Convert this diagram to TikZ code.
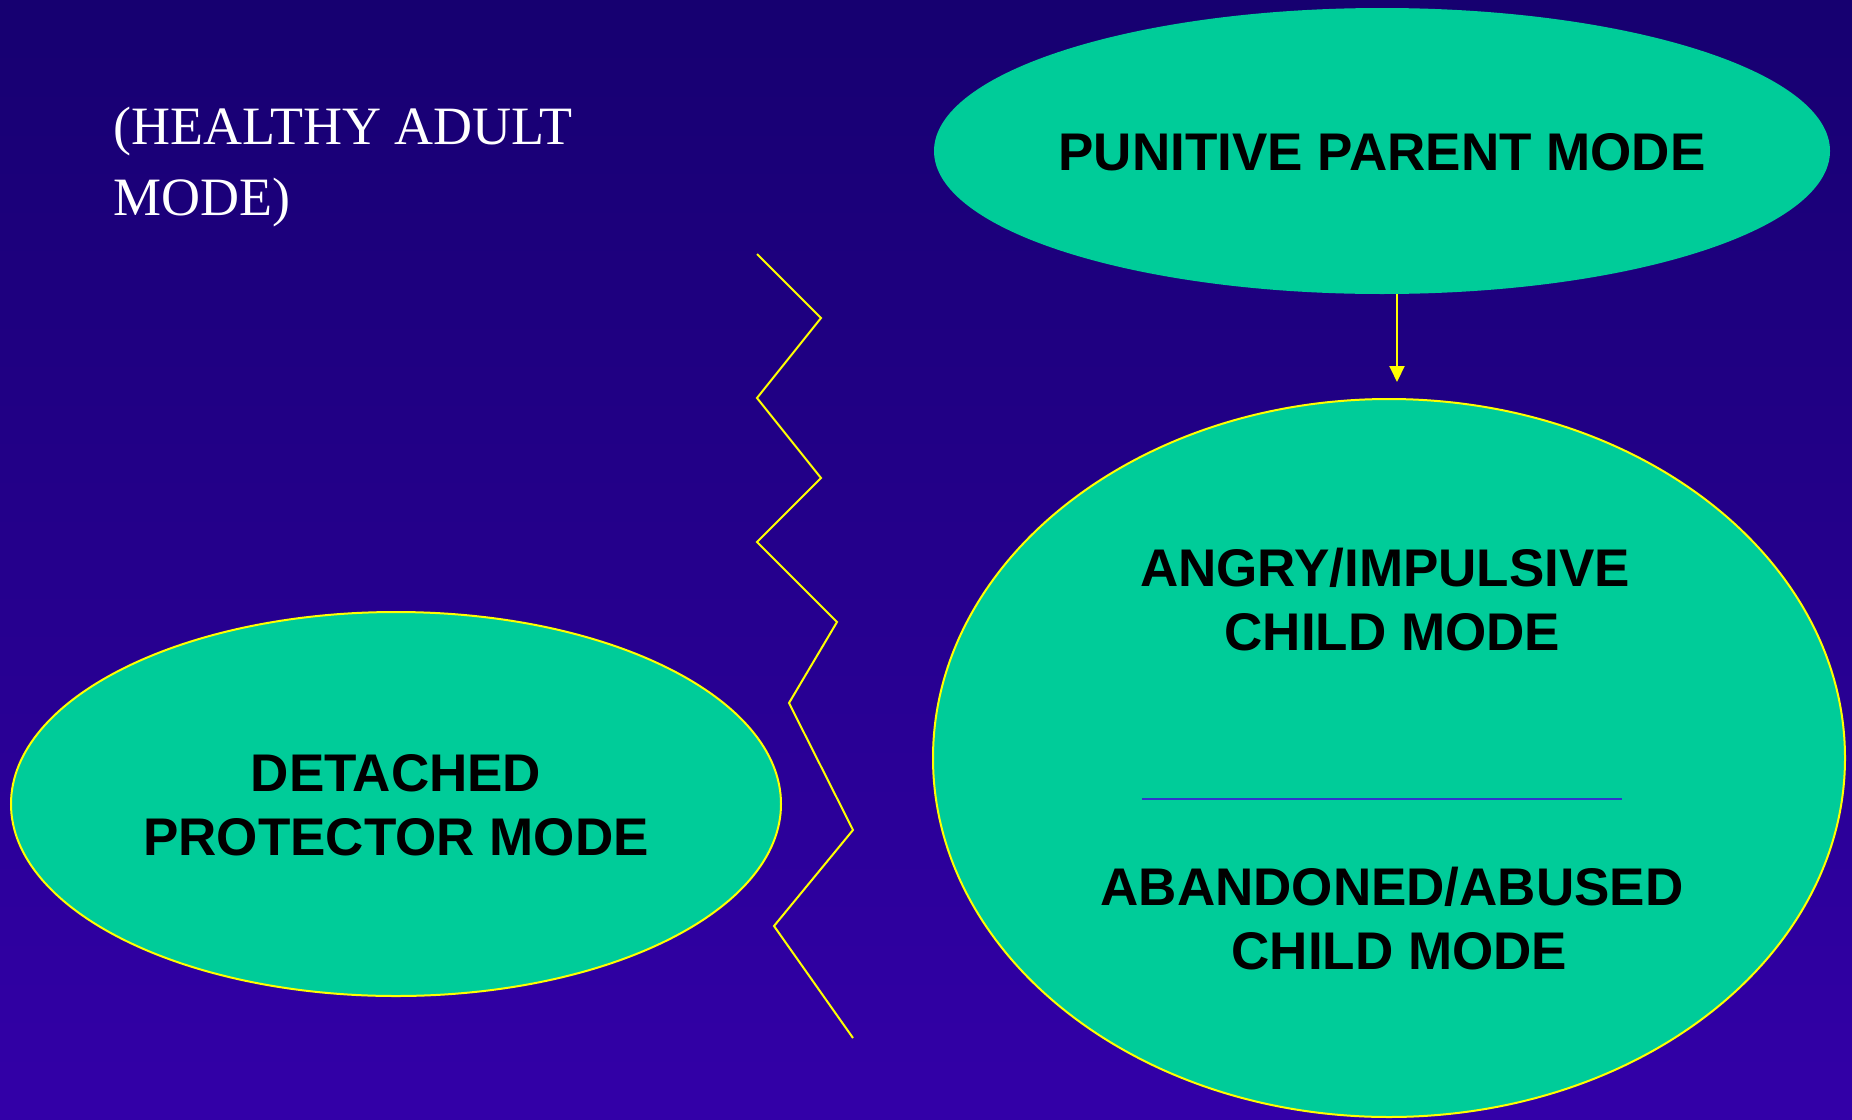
\documentclass[tikz,border=0pt]{standalone}
\usepackage{fontspec}
\setmainfont{Liberation Serif}
\newfontfamily\arialfont{Liberation Sans}
\usetikzlibrary{shapes.geometric,arrows.meta}
\definecolor{bgtop}{HTML}{160070}
\definecolor{bgbot}{HTML}{3300A8}
\definecolor{modefill}{HTML}{00CC99}
\definecolor{divline}{HTML}{3333CC}
\definecolor{ylw}{HTML}{FFFF00}
\tikzset{
  modeell/.style={ellipse, fill=modefill, inner sep=0pt},
  yborder/.style={draw=ylw, line width=2pt},
  modetext/.style={font=\arialfont\bfseries\fontsize{53}{64}\selectfont, text=black, align=center, inner sep=0pt},
  zig/.style={draw=ylw, line width=2pt, line join=miter},
}
\begin{document}
\begin{tikzpicture}[x=1pt,y=-1pt]
\useasboundingbox (0,0) rectangle (1852,1119);
\shade[top color=bgtop, bottom color=bgbot] (0,0) rectangle (1852,1119);

% healthy adult text
\node[anchor=base west, font=\fontsize{54}{71}\selectfont, text=white, align=left, inner sep=0pt] (healthy) at (113,215) {(HEALTHY ADULT\\MODE)};

% punitive parent
\node[modeell, minimum width=896pt, minimum height=286pt] (pun) at (1382,151) {};
\node[modetext] (puntext) at (1382,152) {PUNITIVE PARENT MODE};

% big child ellipse
\node[modeell, yborder, minimum width=912pt, minimum height=718pt] (child) at (1389,758) {};
\node[modetext] (angry) at (1385,600) {ANGRY/IMPULSIVE\\\hspace*{15pt}CHILD MODE};
\node[modetext] (aband) at (1392,919) {ABANDONED/ABUSED\\\hspace*{15pt}CHILD MODE};
\draw[divline, line width=2pt] (1142,799) -- (1622,799);

% detached protector
\node[modeell, yborder, minimum width=770pt, minimum height=384pt] (det) at (396,804) {};
\node[modetext] (dettext) at (396,805) {DETACHED\\PROTECTOR MODE};

% arrow
\coordinate (atip) at (1397,382);
\draw[draw=ylw, line width=2pt, -{Triangle[width=15pt,length=16pt]}, ylw] (pun.south -| atip) -- (atip);

% zigzag
\draw[zig] (757,254) -- (821,318) -- (757,398) -- (821,478) -- (757,542) -- (837,622) -- (789,703) -- (853,830) -- (774,926) -- (853,1038);
\end{tikzpicture}
\end{document}
